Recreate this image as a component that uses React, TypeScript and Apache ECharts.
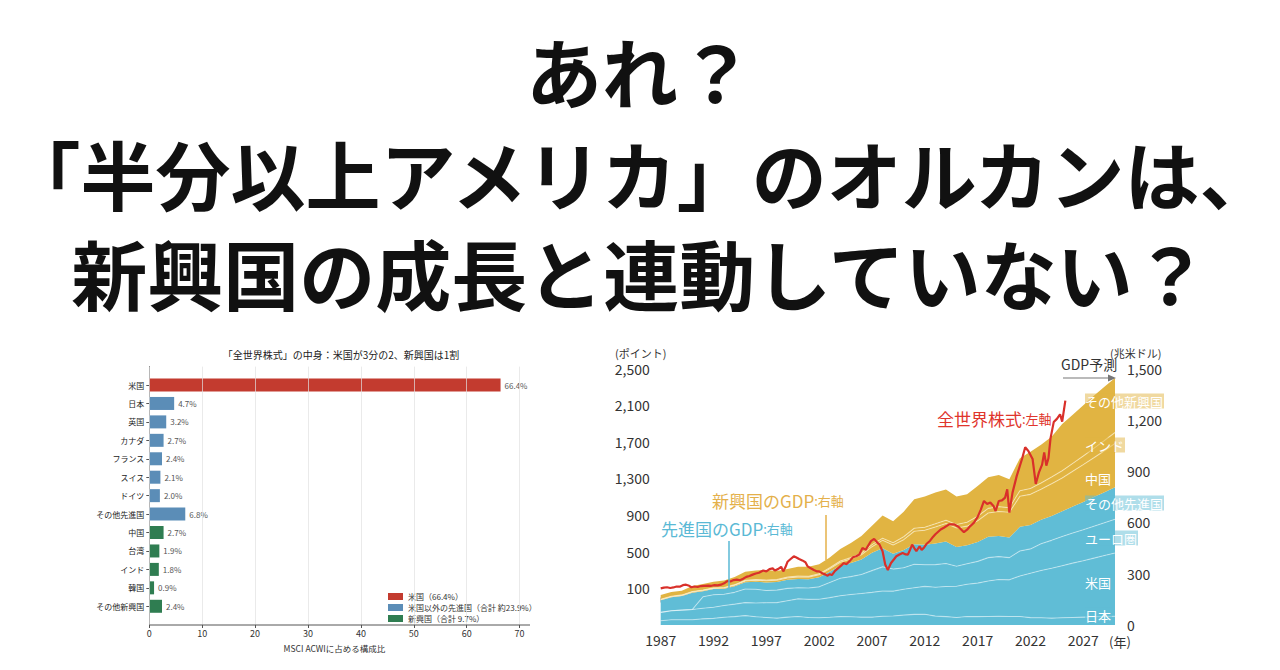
import React, { useEffect, useRef } from "react";
import * as echarts from "echarts";

const FONT = '"Noto Sans CJK JP", "Noto Sans", sans-serif';

const titleLines = ["あれ？", "「半分以上アメリカ」のオルカンは、", "新興国の成長と連動していない？"];

// ---- left: bar chart ----
const barTitle = "「全世界株式」の中身：米国が3分の2、新興国は1割";
const barCategories = ["米国", "日本", "英国", "カナダ", "フランス", "スイス", "ドイツ", "その他先進国", "中国", "台湾", "インド", "韓国", "その他新興国"];
const barValues = [66.4, 4.7, 3.2, 2.7, 2.4, 2.1, 2.0, 6.8, 2.7, 1.9, 1.8, 0.9, 2.4];
const barGroup = [0, 1, 1, 1, 1, 1, 1, 1, 2, 2, 2, 2, 2];
const legendNames = ["米国（66.4%）", "米国以外の先進国（合計 約23.9%）", "新興国（合計 9.7%）"];
const barColors = ["#c33b2f", "#5b8db7", "#2f7d51"];
const barXName = "MSCI ACWIに占める構成比";

// ---- right: GDP stacked area + world equity ----
const gdpYears = [1987, 1988, 1989, 1990, 1991, 1992, 1993, 1994, 1995, 1996, 1997, 1998, 1999, 2000, 2001, 2002, 2003, 2004, 2005, 2006, 2007, 2008, 2009, 2010, 2011, 2012, 2013, 2014, 2015, 2016, 2017, 2018, 2019, 2020, 2021, 2022, 2023, 2024, 2025, 2026, 2027, 2028, 2029, 2030];
const gdpJapan = [25, 31, 31, 31, 36, 39, 45, 49, 55, 48, 44, 40, 46, 50, 44, 42, 45, 49, 48, 46, 46, 51, 53, 58, 62, 63, 52, 49, 44, 50, 49, 50, 51, 50, 50, 43, 42, 40, 42, 44, 46, 48, 50, 51];
const gdpUS = [49, 52, 56, 60, 62, 65, 69, 73, 76, 81, 86, 91, 96, 103, 106, 109, 115, 122, 130, 138, 145, 148, 145, 151, 156, 163, 169, 176, 183, 188, 196, 207, 215, 214, 237, 260, 277, 292, 305, 318, 330, 343, 356, 370];
const gdpEuro = [0, 0, 0, 0, 67, 73, 66, 69, 79, 80, 72, 73, 72, 65, 66, 72, 89, 102, 105, 111, 127, 141, 129, 126, 137, 126, 132, 135, 117, 120, 127, 137, 134, 130, 146, 142, 156, 163, 170, 176, 181, 187, 192, 197];
const gdpOtherAdv = [71, 79, 82, 98, 33, 33, 32, 36, 40, 44, 47, 48, 50, 51, 51, 56, 63, 74, 80, 88, 104, 109, 90, 103, 117, 117, 124, 128, 112, 108, 114, 122, 121, 118, 142, 140, 141, 143, 148, 155, 163, 170, 179, 188];
const gdpChina = [3, 3, 4, 4, 4, 4, 4, 6, 7, 9, 10, 10, 11, 12, 13, 15, 17, 20, 23, 28, 36, 46, 51, 61, 76, 85, 96, 105, 111, 112, 123, 139, 143, 147, 178, 179, 178, 188, 195, 206, 218, 230, 242, 255];
const gdpIndia = [3, 3, 3, 3, 3, 3, 3, 3, 4, 4, 4, 4, 5, 5, 5, 5, 6, 7, 8, 9, 12, 12, 13, 17, 18, 18, 19, 20, 21, 23, 27, 27, 28, 27, 32, 34, 36, 39, 42, 46, 50, 55, 60, 65];
const gdpOtherEm = [24, 25, 25, 32, 35, 36, 41, 44, 51, 52, 59, 50, 48, 55, 55, 56, 60, 71, 86, 100, 110, 133, 125, 147, 170, 180, 183, 180, 164, 164, 177, 182, 185, 166, 190, 215, 224, 236, 273, 285, 297, 307, 314, 319];
const layerNames = ["日本", "米国", "ユーロ圏", "その他先進国", "中国", "インド", "その他新興国"];

const stockLine: [number, number][] = [
  [1987.0, 100], [1987.3, 108], [1987.6, 112], [1987.9, 104], [1988.2, 110], [1988.5, 120], [1988.8, 118], [1989.1, 135], [1989.4, 140], [1989.7, 128], [1989.9, 112],
  [1990.2, 120], [1990.5, 115], [1990.8, 125], [1991.1, 128], [1991.5, 130], [1991.8, 128], [1992.1, 135], [1992.4, 132], [1992.7, 140], [1993.0, 155], [1993.3, 180],
  [1993.6, 175], [1993.9, 190], [1994.2, 195], [1994.5, 188], [1994.8, 205], [1995.1, 225], [1995.4, 235], [1995.7, 250], [1996.0, 262], [1996.3, 270], [1996.7, 295],
  [1997.0, 285], [1997.3, 310], [1997.6, 318], [1997.8, 295], [1998.1, 310], [1998.4, 335], [1998.6, 285], [1998.8, 330], [1999.0, 390], [1999.3, 420], [1999.6, 450],
  [1999.8, 440], [2000.1, 420], [2000.4, 405], [2000.7, 385], [2000.9, 340], [2001.2, 320], [2001.5, 300], [2001.8, 285], [2002.0, 285], [2002.3, 265], [2002.6, 250],
  [2002.8, 238], [2003.0, 255], [2003.2, 245], [2003.5, 290], [2003.8, 320], [2004.1, 350], [2004.3, 375], [2004.6, 365], [2004.9, 400], [2005.2, 440], [2005.5, 450],
  [2005.8, 470], [2006.1, 542], [2006.4, 520], [2006.6, 560], [2006.9, 615], [2007.2, 640], [2007.5, 600], [2007.7, 580], [2008.0, 505], [2008.25, 360], [2008.5, 300],
  [2008.8, 377], [2009.1, 420], [2009.3, 450], [2009.6, 470], [2009.9, 487], [2010.2, 470], [2010.4, 469], [2010.6, 520], [2010.8, 578], [2011.0, 540], [2011.2, 505],
  [2011.5, 560], [2011.7, 520], [2011.9, 542], [2012.2, 590], [2012.5, 620], [2012.7, 652], [2013.0, 690], [2013.5, 743], [2013.8, 762], [2014.3, 798], [2014.8, 798],
  [2015.2, 770], [2015.7, 713], [2016.0, 740], [2016.3, 780], [2016.65, 817], [2017.0, 880], [2017.3, 960], [2017.6, 1054], [2017.9, 1020], [2018.2, 1036], [2018.5, 1000],
  [2018.7, 944], [2019.0, 1054], [2019.3, 1060], [2019.6, 1091], [2019.8, 1182], [2020.0, 926], [2020.3, 1145], [2020.7, 1328], [2021.2, 1512], [2021.5, 1640], [2021.8, 1600],
  [2022.2, 1512], [2022.5, 1240], [2022.8, 1366], [2023.1, 1450], [2023.3, 1585], [2023.5, 1440], [2023.7, 1520], [2023.9, 1740], [2024.2, 1915], [2024.5, 1950], [2024.8, 2000],
  [2025.0, 1920], [2025.3, 2150],
];
const xYearTicks = [1987, 1992, 1997, 2002, 2007, 2012, 2017, 2022, 2027];
const leftPointTicks = [100, 500, 900, 1300, 1700, 2100, 2500];

const BLUE = "#60bdd6";
const GOLD = "#e1b442";

function buildOption() {
  const gdpLayers = [gdpJapan, gdpUS, gdpEuro, gdpOtherAdv, gdpChina, gdpIndia, gdpOtherEm];
  const areaSeries = gdpLayers.map((vals, k) => {
    const isTop = k === 3 || k === 6;
    const color = k < 4 ? BLUE : GOLD;
    return {
      name: layerNames[k],
      type: "line",
      xAxisIndex: 3,
      yAxisIndex: 3,
      stack: "gdp",
      symbol: "none",
      showSymbol: false,
      smooth: false,
      data: vals,
      lineStyle: {
        width: isTop ? 0 : 1.1,
        color: k < 4 ? "rgba(255,255,255,0.45)" : "rgba(255,248,225,0.55)",
      },
      areaStyle: { color, opacity: 1 },
      z: 2,
      silent: true,
    };
  });

  const barSeries = [0, 1, 2].map((g) => ({
    name: legendNames[g],
    type: "bar",
    xAxisIndex: 0,
    yAxisIndex: 0,
    stack: "w",
    barWidth: 13,
    itemStyle: { color: barColors[g] },
    data: barValues.map((v, i) => (barGroup[i] === g ? v : "-")),
    label: {
      show: true,
      position: "right",
      distance: 4,
      fontSize: 8,
      color: "#555",
      formatter: (p: any) => Number(p.value).toFixed(1) + "%",
    },
    z: 2,
  }));

  const txt = (x: number, y: number, text: string, font: string, fill: string, align = "left", extra: any = {}) => ({
    type: "text",
    x,
    y,
    z: 100,
    silent: true,
    style: { text, font, fill, align, verticalAlign: "middle", ...extra },
  });

  const layerLabelPos = [615, 582, 538, 503, 478, 445, 401];
  const layerLabels = layerNames.map((n, k) =>
    txt(1085, layerLabelPos[k], n, `13px ${FONT}`, "#ffffff", "left", {
      backgroundColor: k < 4 ? "rgba(96,189,214,0.5)" : "rgba(225,180,66,0.5)",
      padding: [1, 1, 1, 0],
    })
  );

  const rich = (color: string) => ({
    a: { fontSize: 17, fill: color, fontFamily: FONT },
    b: { fontSize: 13, fill: color, fontFamily: FONT },
  });

  return {
    animation: false,
    textStyle: { fontFamily: FONT },
    backgroundColor: "#ffffff",
    legend: {
      left: 383,
      top: 587,
      orient: "vertical",
      icon: "rect",
      itemWidth: 15,
      itemHeight: 7,
      itemGap: 2,
      textStyle: { fontSize: 8, color: "#333", lineHeight: 9 },
      data: legendNames,
      selectedMode: false,
    },
    grid: [
      { left: 149.3, width: 370.3, top: 375.8, height: 239.7 },
      { left: 149.3, width: 370.3, top: 366.6, height: 258.4 },
      { left: 660.7, right: 165, top: 368.5, bottom: 45 },
    ],
    xAxis: [
      { gridIndex: 0, type: "value", min: 0, max: 70, show: false },
      {
        gridIndex: 1, type: "value", min: 0, max: 70, interval: 10, z: 5,
        axisLine: { show: false },
        axisTick: { show: true, length: 3, lineStyle: { color: "#555" } },
        axisLabel: { fontSize: 9, color: "#333", margin: 4 },
        splitLine: { show: true, lineStyle: { color: "rgba(225,225,225,0.7)", width: 1 } },
        name: barXName, nameLocation: "middle", nameGap: 19,
        nameTextStyle: { fontSize: 8.5, color: "#333" },
      },
      {
        gridIndex: 2, type: "value", min: 1987, max: 2030,
        axisLine: { show: false },
        axisTick: { show: true, customValues: xYearTicks, length: 5, lineStyle: { color: "#c8c8c8" } },
        axisLabel: { customValues: xYearTicks, fontSize: 14, color: "#333", margin: 8, formatter: (v: number) => String(v) },
        splitLine: { show: false },
      },
      {
        gridIndex: 2, type: "category", data: gdpYears, boundaryGap: false, show: false,
      },
    ],
    yAxis: [
      {
        gridIndex: 0, type: "category", inverse: true, data: barCategories,
        axisLine: { show: false },
        axisTick: { show: true, alignWithLabel: true, length: 3, lineStyle: { color: "#555" } },
        axisLabel: { fontSize: 8, color: "#222", margin: 5 },
      },
      {
        gridIndex: 1, type: "value", min: 0, max: 1,
        axisLine: { show: true, lineStyle: { color: "#555", width: 1 } },
        axisTick: { show: false }, axisLabel: { show: false }, splitLine: { show: false },
      },
      {
        gridIndex: 2, type: "value", min: -300, max: 2500, position: "left",
        axisLine: { show: false }, axisTick: { show: false }, splitLine: { show: false },
        axisLabel: {
          customValues: leftPointTicks, fontSize: 14, color: "#333", margin: 11,
          formatter: (v: number) => v.toLocaleString("en-US"),
        },
      },
      {
        gridIndex: 2, type: "value", min: 0, max: 1500, interval: 300, position: "right",
        axisLine: { show: false }, axisTick: { show: false }, splitLine: { show: false },
        axisLabel: {
          fontSize: 14, color: "#333", margin: 12,
          formatter: (v: number) => v.toLocaleString("en-US"),
        },
      },
    ],
    series: [
      ...barSeries,
      ...areaSeries,
      {
        name: "全世界株式",
        type: "line",
        xAxisIndex: 2,
        yAxisIndex: 2,
        symbol: "none",
        showSymbol: false,
        data: stockLine,
        lineStyle: { color: "#d9302a", width: 2.2 },
        z: 10,
        silent: true,
      },
    ],
    graphic: [
      txt(640, 70, titleLines[0], `bold 76px ${FONT}`, "#111", "center"),
      txt(640, 172, titleLines[1], `bold 75px ${FONT}`, "#111", "center"),
      txt(640, 272, titleLines[2], `bold 76px ${FONT}`, "#111", "center"),
      txt(341, 354, barTitle, `10px ${FONT}`, "#222", "center"),
      { type: "line", z: 100, silent: true, shape: { x1: 149.3, y1: 625, x2: 530, y2: 625 }, style: { stroke: "#555", lineWidth: 1 } },
      txt(615, 353, "(ポイント)", `11px ${FONT}`, "#333"),
      txt(1110, 353, "(兆米ドル)", `11px ${FONT}`, "#333"),
      txt(1109, 641, "(年)", `13px ${FONT}`, "#333"),
      txt(1061, 364, "GDP予測", `14px ${FONT}`, "#333"),
      { type: "line", z: 100, silent: true, shape: { x1: 1063, y1: 378, x2: 1110, y2: 378 }, style: { stroke: "#777", lineWidth: 1.2 } },
      { type: "polygon", z: 100, silent: true, shape: { points: [[1108, 374.5], [1116, 378], [1108, 381.5]] }, style: { fill: "#777" } },
      txt(937, 418, "{a|全世界株式}{b|:左軸}", `17px ${FONT}`, "#e0352c", "left", { rich: rich("#e0352c") }),
      txt(712, 500, "{a|新興国のGDP}{b|:右軸}", `17px ${FONT}`, "#e4b04a", "left", { rich: rich("#e4b04a") }),
      txt(661, 528, "{a|先進国のGDP}{b|:右軸}", `17px ${FONT}`, "#5ab9d5", "left", { rich: rich("#5ab9d5") }),
      { type: "line", z: 100, silent: true, shape: { x1: 826, y1: 515, x2: 826, y2: 560 }, style: { stroke: "#e4b04a", lineWidth: 1.5 } },
      { type: "line", z: 100, silent: true, shape: { x1: 729, y1: 541, x2: 729, y2: 588 }, style: { stroke: "#5ab9d5", lineWidth: 1.5 } },
      ...layerLabels,
    ],
  };
}

export default function App() {
  const ref = useRef<HTMLDivElement>(null);
  useEffect(() => {
    if (!ref.current) return;
    const chart = echarts.init(ref.current, undefined, { renderer: "svg" });
    chart.setOption(buildOption() as any);
    return () => chart.dispose();
  }, []);
  return (
    <div
      ref={ref}
      style={{ position: "absolute", left: 0, top: 0, width: 1280, height: 670, background: "#fff" }}
    />
  );
}
